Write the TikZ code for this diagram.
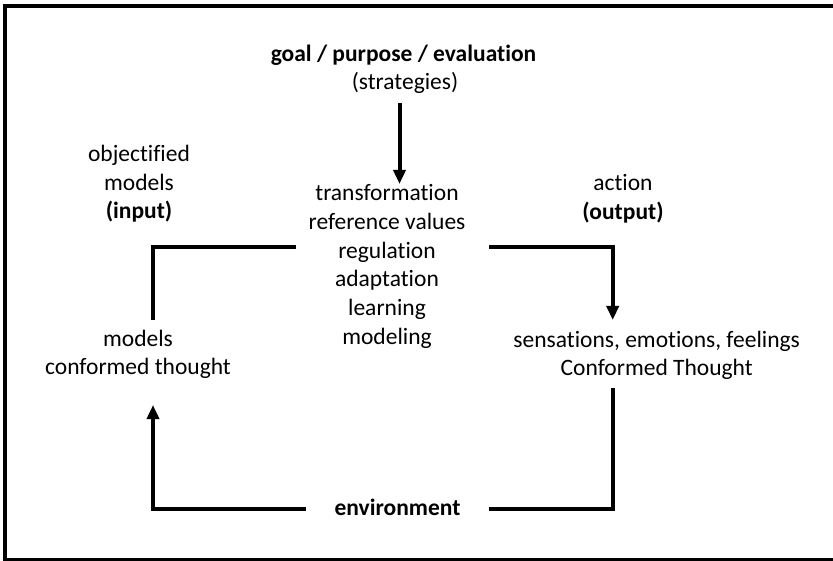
\documentclass[tikz,border=0pt]{standalone}
\usepackage{fontspec}
\setmainfont[Ligatures={NoCommon}]{Carlito}
\usetikzlibrary{arrows.meta}
\begin{document}
\begin{tikzpicture}[x=1pt,y=-1pt,
  lbl/.style={inner sep=0pt,align=center,anchor=base,font=\fontsize{23.5}{28.8}\selectfont},
  conn/.style={line width=4pt,line join=miter},
  arr/.style={conn,-{Triangle[length=14pt,width=12pt]}}]
\useasboundingbox (0,0) rectangle (833,561);
\clip (0,0) rectangle (833,561);
\draw[line width=4pt] (5.3,6) rectangle (860,560);
% anchor=base is the baseline of the last line
\node[lbl] (goal) at (403.5,62) {\textbf{goal / purpose / evaluation}};
\node[lbl] (strat) at (405,89.5) {(strategies)};
\node[lbl] (mid) at (387,344.5) {transformation\\reference values\\regulation\\adaptation\\learning\\modeling};
\node[lbl] (obj) at (139,219) {objectified\\models\\\textbf{(input)}};
\node[lbl] (act) at (623,219.5) {action\\\textbf{(output)}};
\node[lbl,font=\fontsize{23.5}{27.8}\selectfont] (mod) at (138,374.5) {models\\conformed thought};
\node[lbl,font=\fontsize{23.5}{27.8}\selectfont] (sens) at (656.7,375) {sensations, emotions, feelings\\Conformed Thought};
\node[lbl] (env) at (397.5,515.5) {\textbf{environment}};
\coordinate (t1) at (399.5,103.5);
\coordinate (t2) at (399.5,184);
\coordinate (lt) at (296,247);
\coordinate (ltc) at (153,247);
\coordinate (lte) at (153,320);
\coordinate (rt) at (489,247);
\coordinate (rtc) at (612.7,247);
\coordinate (rte) at (612.7,320);
\coordinate (rb) at (612.7,388);
\coordinate (rbc) at (612.7,509);
\coordinate (rbe) at (489,509);
\coordinate (lb) at (305.5,509);
\coordinate (lbc) at (153,509);
\coordinate (lbe) at (153,405);
\draw[arr] (t1) -- (t2);
\draw[conn] (lt) -- (ltc) -- (lte);
\draw[arr] (rt) -- (rtc) -- (rte);
\draw[conn] (rb) -- (rbc) -- (rbe);
\draw[arr] (lb) -- (lbc) -- (lbe);
\end{tikzpicture}
\end{document}
